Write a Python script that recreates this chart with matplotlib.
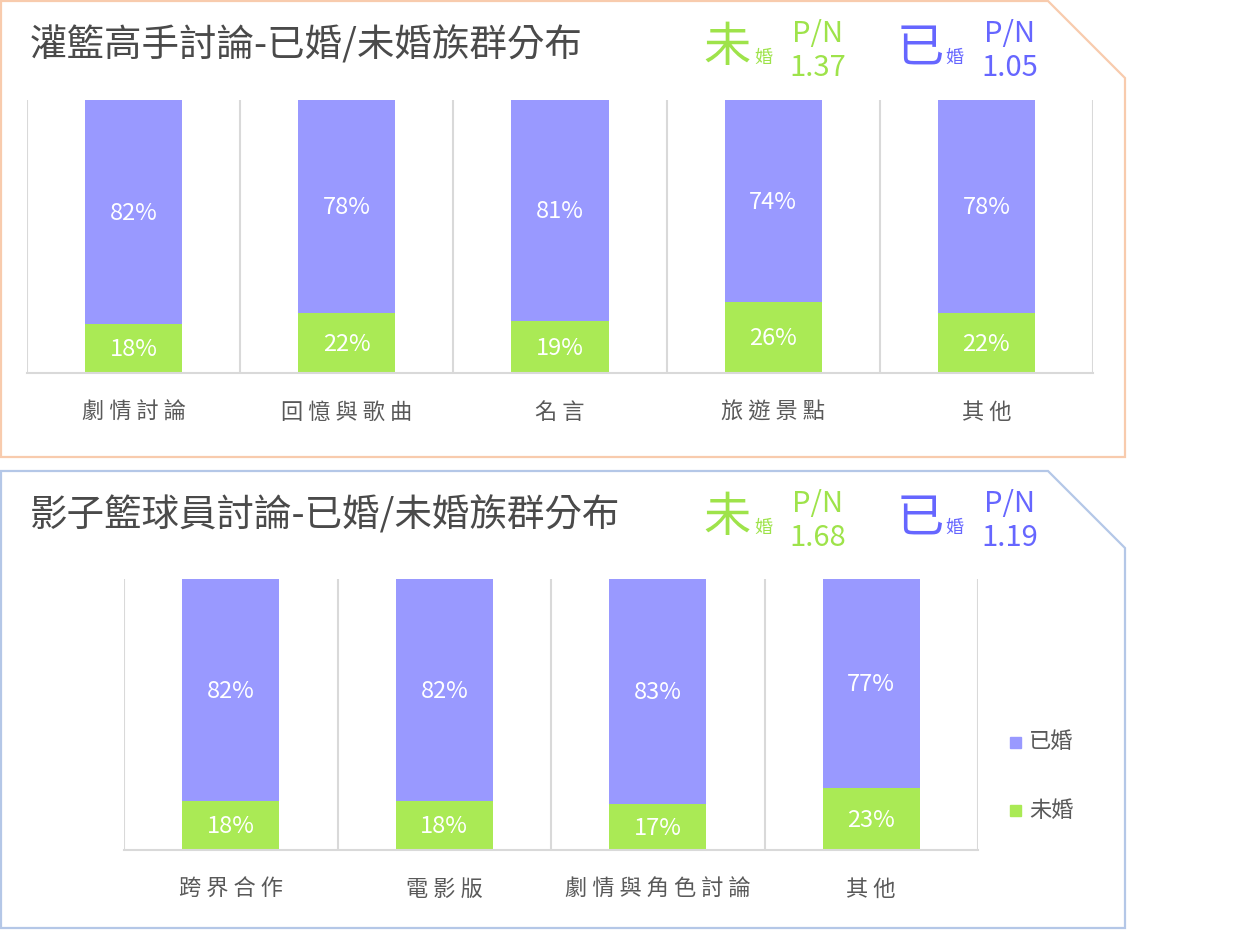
import matplotlib
matplotlib.use("Agg")
import matplotlib.pyplot as plt
from matplotlib.patches import Polygon

plt.rcParams['font.family'] = ['Noto Sans CJK TC', 'DejaVu Sans']

# 數據
cats1 = ['劇情討論', '回憶與歌曲', '名言', '旅遊景點', '其他']
married1 = [82, 78, 81, 74, 78]
single1 = [18, 22, 19, 26, 22]
pn1 = ('1.37', '1.05')

cats2 = ['跨界合作', '電影版', '劇情與角色討論', '其他']
married2 = [82, 82, 83, 77]
single2 = [18, 18, 17, 23]
pn2 = ('1.68', '1.19')

titles = ['灌籃高手討論-已婚/未婚族群分布', '影子籃球員討論-已婚/未婚族群分布']

C_MARRIED = '#9999FF'
C_SINGLE = '#AAEA55'
C_MARRIED_TXT = '#6666FF'
C_SINGLE_TXT = '#9EE34A'
C_GRID = '#D9D9D9'
C_TEXT = '#595959'

W, H = 1235, 938
fig = plt.figure(figsize=(W / 100, H / 100), dpi=100)


def fx(x):
    return x / W


def fy(y):
    return 1 - y / H


def spaced(s):
    return ' '.join(s)


def panel_border(y0, y1, color):
    pts = [(1, y0), (1048, y0), (1125, y0 + 77), (1125, y1), (1, y1)]
    poly = Polygon([(fx(x), fy(y)) for x, y in pts], closed=True, fill=False,
                   edgecolor=color, linewidth=1.6, transform=fig.transFigure)
    fig.add_artist(poly)


def header(ytop, title, pn):
    fig.text(fx(30), fy(ytop + 46), title, fontsize=27, color='#4A4A4A',
             ha='left', va='center')
    # 未婚
    fig.text(fx(703), fy(ytop + 48), '未', fontsize=34, color=C_SINGLE_TXT,
             ha='left', va='center')
    fig.text(fx(754), fy(ytop + 58), '婚', fontsize=13, color=C_SINGLE_TXT,
             ha='left', va='center')
    fig.text(fx(818), fy(ytop + 34), 'P/N', fontsize=21, color=C_SINGLE_TXT,
             ha='center', va='center')
    fig.text(fx(818), fy(ytop + 68), pn[0], fontsize=21, color=C_SINGLE_TXT,
             ha='center', va='center')
    # 已婚
    fig.text(fx(897), fy(ytop + 48), '已', fontsize=34, color=C_MARRIED_TXT,
             ha='left', va='center')
    fig.text(fx(945), fy(ytop + 58), '婚', fontsize=13, color=C_MARRIED_TXT,
             ha='left', va='center')
    fig.text(fx(1010), fy(ytop + 34), 'P/N', fontsize=21, color=C_MARRIED_TXT,
             ha='center', va='center')
    fig.text(fx(1010), fy(ytop + 68), pn[1], fontsize=21, color=C_MARRIED_TXT,
             ha='center', va='center')


def bar_chart(x0, x1, y0, y1, cats, married, single):
    ax = fig.add_axes([fx(x0), fy(y1), fx(x1 - x0), (y1 - y0) / H])
    n = len(cats)
    xs = list(range(n))
    bw = 0.455
    ax.bar(xs, single, width=bw, color=C_SINGLE, zorder=2)
    ax.bar(xs, married, width=bw, bottom=single, color=C_MARRIED, zorder=2)
    for x, s, m in zip(xs, single, married):
        ax.text(x, s / 2 - 0.5, f'{s}%', ha='center', va='center', color='white',
                fontsize=17)
        ax.text(x, s + m / 2 - 0.5, f'{m}%', ha='center', va='center', color='white',
                fontsize=17)
    for k in range(n + 1):
        ax.axvline(k - 0.5, color=C_GRID, linewidth=1.5, zorder=1)
    ax.set_xlim(-0.5, n - 0.5)
    ax.set_ylim(0, 100)
    for sp in ['top', 'left', 'right']:
        ax.spines[sp].set_visible(False)
    ax.spines['bottom'].set_color(C_GRID)
    ax.spines['bottom'].set_linewidth(1.5)
    ax.set_yticks([])
    ax.set_xticks(xs)
    ax.set_xticklabels([spaced(c) for c in cats], fontsize=16, color=C_TEXT)
    ax.tick_params(axis='x', length=0, pad=20)
    ax.patch.set_alpha(0)
    return ax


# 上方面板
panel_border(1, 457, '#F8CBAD')
header(0, titles[0], pn1)
bar_chart(27, 1093, 100, 373, cats1, married1, single1)

# 下方面板
panel_border(471, 928, '#B4C7E7')
header(470, titles[1], pn2)
bar_chart(124, 978, 579, 850, cats2, married2, single2)

# 圖例
for yy, lab, col in [(742, '已婚', C_MARRIED), (810, '未婚', C_SINGLE)]:
    fig.patches.append(plt.Rectangle((fx(1010), fy(yy + 6)), 11 / W, 11 / H,
                                     color=col, transform=fig.transFigure))
    fig.text(fx(1029), fy(yy), lab, fontsize=16, color=C_TEXT,
             ha='left', va='center')

fig.savefig('out.png', dpi=100, facecolor='white')
